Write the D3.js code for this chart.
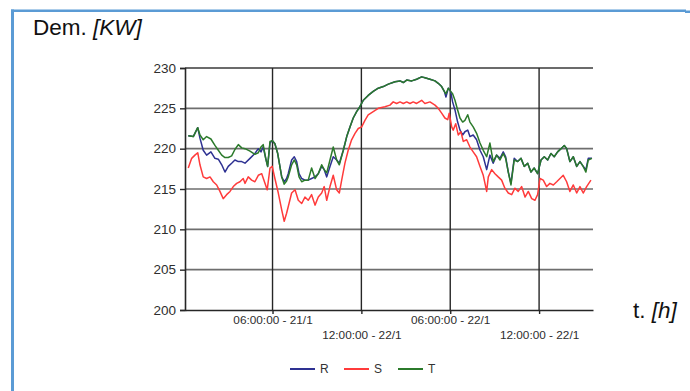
<!DOCTYPE html>
<html><head><meta charset="utf-8">
<script src="https://cdn.jsdelivr.net/npm/d3@7/dist/d3.min.js"></script>
<style>
html,body{margin:0;padding:0;background:#fff;}
svg{display:block;font-family:"Liberation Sans",Arial,sans-serif;}
</style></head>
<body>
<svg id="chart" width="690" height="391"></svg>
<script>
// ---- data ----
const yTicks = [200, 205, 210, 215, 220, 225, 230];
const xTickHours = [6, 12, 18, 24];
const xTickLabels = ["06:00:00 - 21/1", "12:00:00 - 22/1", "06:00:00 - 22/1", "12:00:00 - 22/1"];
const seriesNames = ["R", "S", "T"];

// hours since start (R and T share sampling)
const timeRT = [0.31,0.65,0.95,1.10,1.32,1.55,1.84,2.11,2.34,2.57,2.79,3.01,3.24,3.46,3.69,3.92,4.14,4.48,4.81,5.04,5.22,5.37,5.54,5.67,5.83,5.98,6.16,6.35,6.62,6.79,6.95,7.06,7.29,7.47,7.63,7.79,7.97,8.19,8.41,8.64,8.87,9.09,9.32,9.49,9.66,9.88,10.10,10.33,10.51,10.78,11.01,11.23,11.45,11.68,11.90,12.13,12.46,12.80,13.14,13.48,13.82,14.27,14.61,14.83,15.06,15.40,15.73,16.07,16.29,16.63,16.97,17.19,17.42,17.60,17.71,17.87,18.03,18.16,18.32,18.50,18.66,18.84,18.99,19.18,19.33,19.55,19.78,20.01,20.23,20.46,20.68,20.90,21.13,21.36,21.58,21.74,21.92,22.10,22.32,22.55,22.78,23.00,23.23,23.45,23.67,23.90,24.13,24.35,24.58,24.80,25.02,25.25,25.48,25.70,25.86,26.08,26.31,26.54,26.76,26.98,27.16,27.32,27.57];
const valuesR = [221.6,221.5,222.6,221.3,219.8,219.2,219.6,218.8,218.7,218.0,217.1,217.8,218.2,218.6,218.4,218.4,218.2,218.8,219.4,220.0,219.6,220.2,218.8,217.8,220.7,221.0,220.6,219.4,216.5,215.9,216.3,216.9,218.6,219.0,218.4,216.9,216.3,216.1,216.1,216.3,216.5,216.9,217.8,217.4,216.5,217.8,219.0,218.6,218.2,219.8,221.5,222.7,223.8,224.6,225.2,226.0,226.6,227.1,227.5,227.7,228.0,228.3,228.4,228.2,228.5,228.4,228.6,228.9,228.8,228.6,228.4,228.1,227.7,227.1,226.4,227.5,227.1,225.8,224.8,223.3,222.3,221.7,222.1,222.3,221.5,221.7,221.1,219.8,219.0,217.4,219.2,218.2,219.2,218.8,219.6,219.0,217.1,215.7,218.8,218.4,218.8,217.8,218.2,217.1,217.6,216.9,218.6,219.0,218.6,219.4,219.0,219.6,220.0,220.4,220.0,218.4,219.0,217.8,218.4,217.8,217.4,218.8,218.8];
const valuesT = [221.6,221.5,222.6,221.7,221.1,221.5,221.2,220.4,219.8,219.2,218.9,218.9,219.1,219.9,220.5,220.1,220.0,219.7,219.3,219.5,220.2,220.5,218.8,217.8,220.9,221.0,220.6,219.4,216.5,215.6,216.0,216.5,218.0,218.6,218.0,216.5,215.9,216.1,216.1,217.6,216.3,216.9,218.0,217.4,217.0,218.6,220.2,218.6,218.0,219.8,221.5,222.7,223.8,224.6,225.2,226.0,226.6,227.1,227.5,227.7,228.0,228.3,228.4,228.2,228.5,228.4,228.6,228.9,228.8,228.6,228.4,228.1,227.7,227.1,226.8,227.5,227.1,226.8,226.0,224.8,223.8,223.3,223.5,224.2,223.3,222.7,221.9,220.7,219.8,219.0,220.7,218.4,219.2,218.6,219.4,218.8,217.1,215.5,218.6,218.4,218.8,217.8,218.2,217.1,217.6,216.9,218.6,219.0,218.6,219.4,219.0,219.6,220.0,220.4,220.0,218.4,219.0,217.8,218.4,217.8,217.1,218.6,218.8];

const timeS = [0.31,0.54,0.76,0.95,1.10,1.32,1.55,1.78,2.00,2.23,2.45,2.67,2.90,3.13,3.35,3.58,3.80,4.02,4.14,4.36,4.59,4.81,5.04,5.27,5.49,5.64,5.83,5.98,6.16,6.39,6.62,6.79,6.95,7.06,7.29,7.52,7.74,7.97,8.19,8.41,8.64,8.87,9.09,9.32,9.49,9.66,9.88,10.10,10.33,10.51,10.67,10.89,11.11,11.34,11.57,11.79,12.02,12.24,12.46,12.80,13.14,13.59,13.93,14.15,14.38,14.61,14.83,15.06,15.28,15.50,15.73,16.07,16.29,16.63,16.97,17.19,17.42,17.64,17.83,17.93,18.10,18.20,18.37,18.54,18.72,18.88,19.11,19.33,19.55,19.78,20.01,20.23,20.46,20.57,20.80,21.02,21.24,21.47,21.69,21.92,22.15,22.37,22.59,22.82,23.05,23.27,23.50,23.72,23.90,24.06,24.28,24.51,24.73,24.96,25.19,25.41,25.63,25.86,26.08,26.31,26.54,26.76,26.98,27.21,27.50];
const valuesS = [217.6,218.8,219.2,219.5,218.0,216.5,216.3,216.5,215.9,215.5,214.7,213.8,214.3,214.7,215.3,215.7,215.9,216.3,215.7,216.5,216.1,215.9,216.7,216.9,215.7,214.9,217.6,217.8,216.3,214.5,212.4,211.0,212.0,212.8,214.5,214.9,213.6,213.2,214.0,213.6,214.3,213.0,214.0,214.5,215.3,213.6,215.3,216.7,214.9,214.5,216.1,218.2,219.8,221.1,221.9,222.5,222.7,223.5,224.2,224.6,225.0,225.2,225.4,225.8,225.6,225.8,225.6,225.8,225.6,225.8,225.6,226.0,225.6,225.8,225.4,225.0,224.4,223.8,223.6,224.4,222.7,222.3,223.1,221.7,222.1,220.9,221.1,220.2,219.6,219.0,217.8,216.7,214.7,216.5,217.4,216.9,216.5,216.1,215.1,214.5,214.3,215.1,214.7,215.3,214.0,214.7,213.8,213.6,214.3,216.3,216.1,215.3,215.7,215.5,215.9,216.3,216.7,215.9,214.7,215.5,214.5,215.3,214.5,215.3,216.1];

// ---- drawing ----
const svg = d3.select("#chart");
const colors = {R: "#2e3192", S: "#ff3b3b", T: "#2b7a2b"};

// blue frame
svg.append("rect").attr("x", 11).attr("y", 9.5).attr("width", 675).attr("height", 2.5).attr("fill", "#5b9bd5");
svg.append("rect").attr("x", 685).attr("y", 10.5).attr("width", 5).attr("height", 2.5).attr("fill", "#5b9bd5");
svg.append("rect").attr("x", 11).attr("y", 9.5).attr("width", 3).attr("height", 382).attr("fill", "#5b9bd5");

const x = d3.scaleLinear().domain([0.09, 27.64]).range([185, 593]);
const y = d3.scaleLinear().domain([200, 230]).range([310, 68]);

// horizontal grid
svg.append("g").selectAll("line").data(yTicks.filter(v => v !== 200)).join("line")
  .attr("x1", 185).attr("x2", 593)
  .attr("y1", d => y(d)).attr("y2", d => y(d))
  .attr("stroke", d => d === 230 ? "#3a3a3a" : "#6e6e6e").attr("stroke-width", 1.6);

// vertical grid
svg.append("g").selectAll("line").data(xTickHours).join("line")
  .attr("x1", d => x(d)).attr("x2", d => x(d))
  .attr("y1", 68).attr("y2", 310)
  .attr("stroke", "#262626").attr("stroke-width", 1.4);

// y axis
const yAxis = svg.append("g").attr("transform", "translate(185,0)")
  .call(d3.axisLeft(y).tickValues(yTicks).tickSize(5).tickPadding(4).tickFormat(d3.format("d")));
yAxis.select(".domain").attr("stroke", "#262626").attr("stroke-width", 1.6);
yAxis.selectAll(".tick line").attr("stroke", "#262626").attr("stroke-width", 1.4);
yAxis.selectAll("text").attr("font-size", 13.5).attr("fill", "#2e2e2e")
  .attr("font-family", "'Liberation Sans', Arial, sans-serif");

// x axis
const xAxis = svg.append("g").attr("transform", "translate(0,310)")
  .call(d3.axisBottom(x).tickValues(xTickHours).tickSize(4).tickSizeOuter(0)
    .tickFormat((d, i) => xTickLabels[i]));
xAxis.select(".domain").attr("stroke", "#262626").attr("stroke-width", 1.6);
xAxis.selectAll(".tick line").attr("stroke", "#262626").attr("stroke-width", 1.4);
xAxis.selectAll("text").attr("font-size", 11.8).attr("fill", "#2e2e2e")
  .attr("font-family", "'Liberation Sans', Arial, sans-serif")
  .attr("y", (d, i) => i % 2 === 0 ? 6 : 21).attr("dy", "0.71em");

// series lines
const line = d3.line().x(d => x(d[0])).y(d => y(d[1]));
const seriesData = {
  R: timeRT.map((t, i) => [t, valuesR[i]]),
  S: timeS.map((t, i) => [t, valuesS[i]]),
  T: timeRT.map((t, i) => [t, valuesT[i]])
};
seriesNames.forEach(n => {
  svg.append("path").datum(seriesData[n]).attr("d", line)
    .attr("fill", "none").attr("stroke", colors[n]).attr("stroke-width", 1.5)
    .attr("stroke-linejoin", "round");
});

// titles
const title = svg.append("text").attr("x", 33).attr("y", 35).attr("font-size", 22.5).attr("fill", "#111");
title.append("tspan").text("Dem. ");
title.append("tspan").attr("font-style", "italic").text("[KW]");
const tl = svg.append("text").attr("x", 633).attr("y", 318).attr("font-size", 22.5).attr("fill", "#111");
tl.append("tspan").text("t. ");
tl.append("tspan").attr("font-style", "italic").text("[h]");

// legend
const leg = svg.append("g");
seriesNames.forEach((n, i) => {
  const lx = 290 + i * 54;
  leg.append("line").attr("x1", lx).attr("x2", lx + 25).attr("y1", 369).attr("y2", 369)
    .attr("stroke", colors[n]).attr("stroke-width", 2);
  leg.append("text").attr("x", lx + 30).attr("y", 373).attr("font-size", 12).attr("fill", "#333").text(n);
});
</script>
</body></html>
